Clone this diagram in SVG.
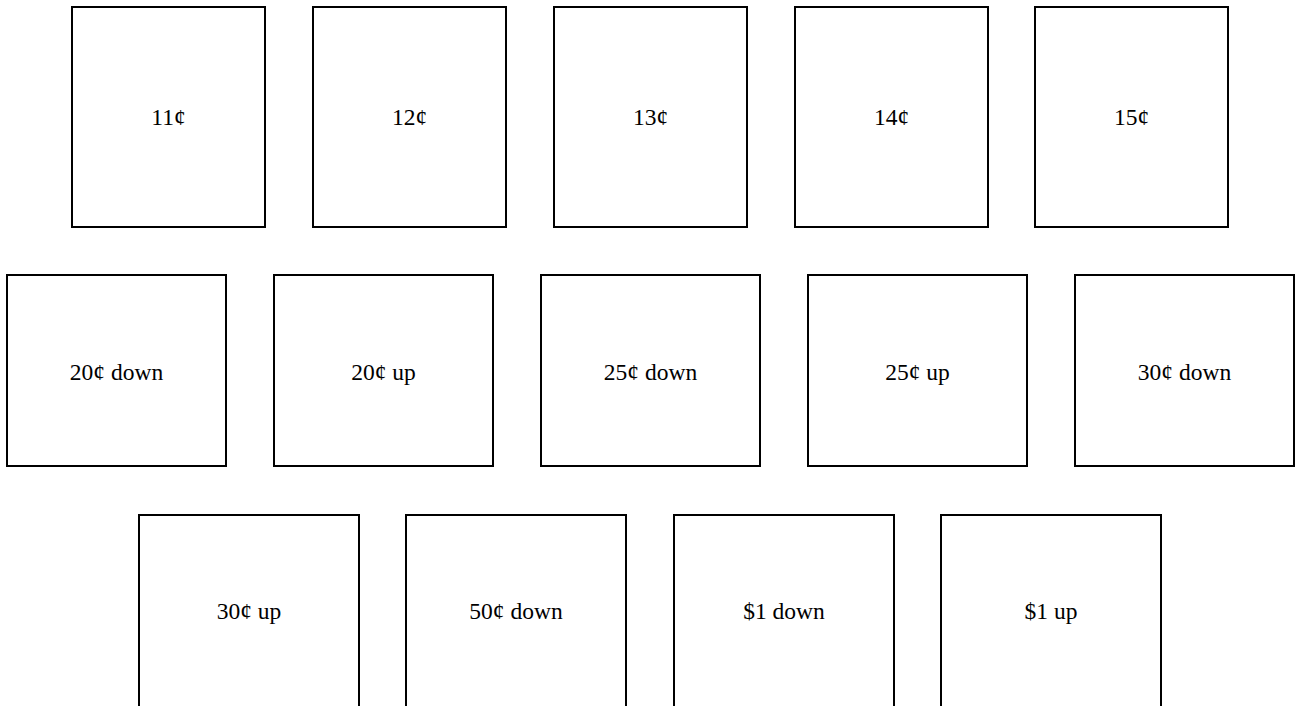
<svg xmlns="http://www.w3.org/2000/svg" width="1299" height="706" viewBox="0 0 1299 706">
<style>
.box{fill:#fff;stroke:#000;stroke-width:2}
.lbl{font-family:"Liberation Serif","Times New Roman",serif;font-size:23.5px;fill:#000;text-anchor:middle}
</style>
<rect width="1299" height="706" fill="#fff"/>
<g id="n11"><rect class="box" x="72" y="7" width="193" height="220"/><text class="lbl" x="168.5" y="125">11¢</text></g>
<g id="n12"><rect class="box" x="313" y="7" width="193" height="220"/><text class="lbl" x="409.5" y="125">12¢</text></g>
<g id="n13"><rect class="box" x="554" y="7" width="193" height="220"/><text class="lbl" x="650.5" y="125">13¢</text></g>
<g id="n14"><rect class="box" x="795" y="7" width="193" height="220"/><text class="lbl" x="891.5" y="125">14¢</text></g>
<g id="n15"><rect class="box" x="1035" y="7" width="193" height="220"/><text class="lbl" x="1131.5" y="125">15¢</text></g>
<g id="n20d"><rect class="box" x="7" y="275" width="219" height="191"/><text class="lbl" x="116.5" y="380">20¢ down</text></g>
<g id="n20u"><rect class="box" x="274" y="275" width="219" height="191"/><text class="lbl" x="383.5" y="380">20¢ up</text></g>
<g id="n25d"><rect class="box" x="541" y="275" width="219" height="191"/><text class="lbl" x="650.5" y="380">25¢ down</text></g>
<g id="n25u"><rect class="box" x="808" y="275" width="219" height="191"/><text class="lbl" x="917.5" y="380">25¢ up</text></g>
<g id="n30d"><rect class="box" x="1075" y="275" width="219" height="191"/><text class="lbl" x="1184.5" y="380">30¢ down</text></g>
<g id="n30u"><rect class="box" x="139" y="515" width="220" height="195"/><text class="lbl" x="249" y="619">30¢ up</text></g>
<g id="n50d"><rect class="box" x="406" y="515" width="220" height="195"/><text class="lbl" x="516" y="619">50¢ down</text></g>
<g id="n1d"><rect class="box" x="674" y="515" width="220" height="195"/><text class="lbl" x="784" y="619">$1 down</text></g>
<g id="n1u"><rect class="box" x="941" y="515" width="220" height="195"/><text class="lbl" x="1051" y="619">$1 up</text></g>
<g id="connectors"></g>
</svg>
